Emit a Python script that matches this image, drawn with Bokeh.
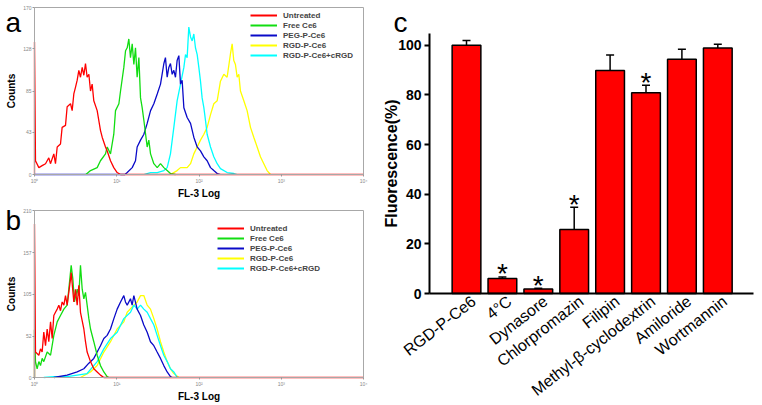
from bokeh.plotting import figure
from bokeh.models import (Range1d, FixedTicker, Label, LabelSet, Legend, LegendItem, Whisker,
                          ColumnDataSource, TeeHead, LinearAxis)
from bokeh.layouts import row, column
from bokeh.embed import file_html
from bokeh.resources import INLINE
from bokeh.core.properties import value

FONT = "Liberation Sans"
NAN = float("nan")

# ---------------- data: panel a (x in decades of FL-3, y in counts) ----------------
a_red_x = [0.000, 0.000, 0.012, 0.053, 0.093, 0.134, 0.174, 0.194, 0.235, 0.255, 0.276, 0.316, 0.336, 0.377, 0.397, 0.438, 0.458, 0.478, 0.499, 0.519, 0.539, 0.559, 0.580, 0.600, 0.620, 0.640, 0.661, 0.681, 0.701, 0.721, 0.762, 0.802, 0.823, 0.863, 0.884, 0.924, 0.964, 1.005, 1.046, 4.000]
a_red_y = [0, 135, 14, 7, 9, 11, 17, 11, 21, 11, 28, 31, 48, 50, 69, 72, 65, 82, 89, 96, 106, 99, 109, 101, 113, 99, 102, 85, 92, 75, 65, 45, 38, 28, 24, 14, 7, 2, 0, 0]
a_green_x = [0.624, 0.681, 0.762, 0.802, 0.863, 0.884, 0.924, 0.964, 0.985, 1.026, 1.046, 1.086, 1.107, 1.127, 1.147, 1.167, 1.188, 1.208, 1.228, 1.248, 1.269, 1.289, 1.309, 1.330, 1.370, 1.390, 1.411, 1.451, 1.492, 1.532, 1.573, 1.613, 1.653, 1.714]
a_green_y = [0, 4, 7, 14, 21, 28, 21, 41, 65, 72, 85, 109, 126, 129, 138, 119, 133, 112, 129, 99, 119, 78, 68, 55, 28, 35, 21, 11, 7, 11, 7, 4, 1, 0]
a_blue_x = [0.000, 1.100, 1.127, 1.188, 1.228, 1.248, 1.289, 1.330, 1.370, 1.411, 1.451, 1.492, 1.532, 1.573, 1.592, 1.613, 1.633, 1.653, 1.674, 1.694, 1.714, 1.734, 1.755, 1.775, 1.795, 1.816, 1.856, 1.897, 1.937, 1.978, 2.018, 2.059, 2.099, 2.140, 2.180, 2.221, 2.261]
a_blue_y = [0, 0, 2, 7, 14, 28, 35, 41, 52, 65, 72, 82, 92, 113, 119, 99, 109, 113, 102, 106, 99, 116, 121, 92, 96, 68, 58, 52, 38, 28, 24, 18, 14, 7, 4, 1, 0]
a_yellow_x = [1.653, 1.734, 1.775, 1.856, 1.897, 1.937, 1.978, 2.018, 2.059, 2.099, 2.140, 2.180, 2.221, 2.261, 2.302, 2.342, 2.383, 2.403, 2.423, 2.443, 2.464, 2.484, 2.504, 2.545, 2.585, 2.626, 2.666, 2.707, 2.747, 2.788, 2.828, 2.869]
a_yellow_y = [0, 4, 7, 7, 11, 21, 28, 35, 41, 48, 61, 72, 75, 95, 102, 99, 123, 133, 116, 112, 99, 102, 85, 75, 65, 48, 38, 28, 18, 11, 4, 0]
a_cyan_x = [1.330, 1.411, 1.492, 1.573, 1.613, 1.653, 1.694, 1.734, 1.775, 1.816, 1.836, 1.856, 1.876, 1.897, 1.917, 1.937, 1.957, 1.978, 1.998, 2.018, 2.038, 2.059, 2.079, 2.099, 2.140, 2.180, 2.221, 2.261, 2.342, 2.423, 2.464]
a_cyan_y = [0, 2, 2, 4, 7, 21, 48, 75, 92, 109, 122, 119, 150, 140, 136, 143, 129, 122, 109, 95, 78, 68, 55, 41, 28, 18, 11, 6, 2, 1, 0]

# ---------------- data: panel b ----------------
b_red_x = [0.000, 0.000, 0.012, 0.053, 0.073, 0.093, 0.113, 0.134, 0.154, 0.174, 0.195, 0.215, 0.235, 0.255, 0.276, 0.296, 0.316, 0.336, 0.357, 0.377, 0.397, 0.417, 0.438, 0.446, 0.478, 0.498, 0.519, 0.539, 0.559, 0.600, 0.620, 0.640, 0.681, 0.721, 0.762, 0.802, 0.843, 4.000]
b_red_y = [0, 193, 32, 28, 36, 32, 57, 40, 61, 45, 70, 49, 78, 82, 86, 91, 84, 95, 91, 103, 91, 107, 124, 132, 95, 111, 91, 116, 82, 61, 45, 32, 20, 11, 7, 3, 0, 0]
b_green_x = [0.000, 0.000, 0.012, 0.032, 0.053, 0.073, 0.093, 0.113, 0.154, 0.195, 0.235, 0.276, 0.316, 0.357, 0.397, 0.417, 0.446, 0.466, 0.486, 0.519, 0.539, 0.559, 0.580, 0.600, 0.620, 0.640, 0.661, 0.681, 0.721, 0.762, 0.802, 0.843, 0.883, 0.904]
b_green_y = [0, 60, 20, 11, 20, 15, 24, 20, 32, 28, 53, 70, 78, 86, 91, 111, 141, 124, 95, 111, 103, 141, 111, 99, 107, 91, 74, 61, 45, 28, 15, 7, 1, 0]
b_blue_x = [0.235, 0.397, 0.519, 0.600, 0.661, 0.721, 0.762, 0.802, 0.843, 0.883, 0.924, 0.965, 1.005, 1.046, 1.086, 1.106, 1.127, 1.167, 1.187, 1.208, 1.248, 1.289, 1.329, 1.370, 1.410, 1.451, 1.491, 1.532, 1.572, 1.613, 1.653, 1.674]
b_blue_y = [0, 3, 7, 11, 18, 24, 32, 40, 49, 53, 61, 74, 86, 95, 103, 95, 91, 99, 91, 103, 86, 78, 66, 57, 45, 40, 32, 24, 15, 7, 1, 0]
b_yellow_x = [0.559, 0.681, 0.762, 0.843, 0.924, 1.005, 1.086, 1.127, 1.208, 1.248, 1.289, 1.329, 1.370, 1.410, 1.451, 1.491, 1.532, 1.572, 1.613, 1.653, 1.694, 1.755]
b_yellow_y = [0, 7, 15, 32, 45, 61, 70, 82, 91, 95, 103, 103, 91, 86, 74, 61, 45, 32, 20, 11, 5, 0]
b_cyan_x = [0.113, 0.235, 0.397, 0.640, 0.762, 0.843, 0.924, 1.005, 1.086, 1.167, 1.208, 1.248, 1.289, 1.329, 1.370, 1.410, 1.451, 1.491, 1.532, 1.572, 1.613, 1.653, 1.694, 1.735]
b_cyan_y = [0, 1, 1, 5, 20, 36, 49, 57, 74, 82, 91, 86, 91, 86, 82, 74, 66, 53, 40, 28, 20, 11, 7, 0]

legend_labels = ["Untreated", "Free Ce6", "PEG-P-Ce6", "RGD-P-Ce6", "RGD-P-Ce6+cRGD"]
line_colors = ["#ff0000", "#11dd11", "#0a0ac8", "#ffff00", "#00ffff"]
decade_ticks = [0, 1, 2, 3, 4]
decade_labels = ["10\u2070", "10\u00b9", "10\u00b2", "10\u00b3", "10\u2074"]
a_yticks = [0, 43, 85, 128, 170]
b_yticks = [0, 52, 105, 157, 210]

# ---------------- data: panel c ----------------
treatments = ["RGD-P-Ce6", "4\u00b0C", "Dynasore", "Chlorpromazin", "Filipin",
              "Methyl-\u03b2-cyclodextrin", "Amiloride", "Wortmannin"]
fluorescence = [100.0, 6.0, 1.8, 25.8, 89.8, 80.9, 94.3, 98.9]
fluor_err = [1.9, 0.6, 0.3, 8.9, 6.3, 3.0, 4.1, 1.5]
significant = [False, True, True, True, False, True, False, False]
c_yticks = [0, 20, 40, 60, 80, 100]
c_ymax = 104.7

GRAY = "#a8a8a8"


def plain_axis(ax):
    ax.ticker = FixedTicker(ticks=[])
    ax.axis_line_color = GRAY
    ax.major_tick_line_color = None
    ax.minor_tick_line_color = None
    ax.major_label_text_font_size = "0px"


def hist_panel(height, box_top, box_bottom, ymax, yticks, series, letter, letter_base,
               legend_xy):
    W = 380
    box_left, box_right = 34, 363
    xpx = (box_right - box_left) / 4.0
    ypx = (box_bottom - box_top) / ymax
    p = figure(width=W, height=height, output_backend="svg", toolbar_location=None,
               x_range=Range1d(-box_left / xpx, 4 + (W - box_right) / xpx),
               y_range=Range1d(-(height - box_bottom) / ypx, ymax + box_top / ypx),
               min_border=0)
    p.grid.visible = False
    p.outline_line_color = None
    xa, ya = p.xaxis[0], p.yaxis[0]
    xa.fixed_location = 0
    xa.bounds = (0, 4)
    ya.fixed_location = 0
    ya.bounds = (0, ymax)
    for ax in (xa, ya):
        ax.axis_line_color = GRAY
        ax.major_tick_line_color = "#999999"
        ax.major_tick_out = 2
        ax.major_tick_in = 0
        ax.minor_tick_line_color = None
        ax.major_label_text_font = FONT
        ax.major_label_text_font_size = "5px"
        ax.major_label_text_color = "#888888"
        ax.major_label_standoff = 1
        ax.axis_label_text_font = FONT
        ax.axis_label_text_font_size = "10px"
        ax.axis_label_text_font_style = "bold"
        ax.axis_label_text_color = "black"
    xa.ticker = FixedTicker(ticks=decade_ticks)
    xa.major_label_overrides = dict(zip(decade_ticks, decade_labels))
    ya.ticker = FixedTicker(ticks=yticks)
    xa.axis_label = "FL-3 Log"
    xa.axis_label_standoff = 1
    ya.axis_label = "Counts"
    ya.axis_label_standoff = 3
    top_ax = LinearAxis(fixed_location=ymax, bounds=(0, 4))
    right_ax = LinearAxis(fixed_location=4, bounds=(0, ymax))
    plain_axis(top_ax)
    plain_axis(right_ax)
    p.add_layout(top_ax, "above")
    p.add_layout(right_ax, "right")

    for i in [3, 4, 2, 1, 0]:
        xs, ys = series[i]
        p.line(xs, ys, line_color=line_colors[i], line_width=1.3)
    items = []
    for i, lab in enumerate(legend_labels):
        proxy = p.line(x=[NAN], y=[NAN], line_color=line_colors[i], line_width=2)
        items.append(LegendItem(label=lab, renderers=[proxy]))
    leg = Legend(items=items, location=legend_xy, orientation="vertical",
                 glyph_width=27, glyph_height=10, label_height=10, spacing=0,
                 padding=0, margin=0, label_standoff=6,
                 label_text_font=FONT, label_text_font_size="8px",
                 label_text_font_style="bold", border_line_color=None,
                 background_fill_alpha=0)
    p.add_layout(leg)
    p.add_layout(Label(x=5, y=height - letter_base, x_units="screen", y_units="screen",
                       text=letter, text_font=FONT, text_font_size="28px",
                       text_color="black", text_baseline="alphabetic"))
    return p


fa = hist_panel(200, 7, 174, 170, a_yticks,
                [(a_red_x, a_red_y), (a_green_x, a_green_y), (a_blue_x, a_blue_y),
                 (a_yellow_x, a_yellow_y), (a_cyan_x, a_cyan_y)],
                "a", 22, (250, 140))
fb = hist_panel(205, 10, 177, 210, b_yticks,
                [(b_red_x, b_red_y), (b_green_x, b_green_y), (b_blue_x, b_blue_y),
                 (b_yellow_x, b_yellow_y), (b_cyan_x, b_cyan_y)],
                "b", 20, (217, 132))

# ---------------- panel c ----------------
CW, CH = 382, 405
c_first_bar_px = 86      # canvas x of first bar centre
c_bar_step_px = 35.9
c_zero_px = 293          # canvas y of value 0
c_unit_px = 2.483

idx = list(range(len(treatments)))
upper = [v + e for v, e in zip(fluorescence, fluor_err)]
lower = [v - e for v, e in zip(fluorescence, fluor_err)]
src = ColumnDataSource(dict(x=idx, top=fluorescence, upper=upper, lower=lower,
                            base=[0] * len(idx), name=treatments))

fc = figure(width=CW, height=CH, output_backend="svg", toolbar_location=None,
            x_range=Range1d(-c_first_bar_px / c_bar_step_px,
                            (CW - c_first_bar_px) / c_bar_step_px),
            y_range=Range1d(-(CH - c_zero_px) / c_unit_px, c_zero_px / c_unit_px),
            min_border=0)
fc.grid.visible = False
fc.outline_line_color = None
fc.vbar(x="x", top="top", width=0.8, source=src, fill_color="#ff0000",
        line_color="black", line_width=1.5)
fc.add_layout(Whisker(source=src, base="x", upper="upper", lower="lower",
                      line_color="black", line_width=1.5,
                      upper_head=TeeHead(size=8, line_width=1.5, line_color="black"),
                      lower_head=TeeHead(size=8, line_width=1.5, line_color="black")))
ast_x = [i for i, s in zip(idx, significant) if s]
ast_y = [u + 4.5 for u, s in zip(upper, significant) if s]
fc.text(x=ast_x, y=ast_y, text=["*"] * len(ast_x), text_font=value(FONT),
        text_font_size="28px", text_align="center", text_baseline="alphabetic",
        y_offset=8, text_color="black")

xc, yc = fc.xaxis[0], fc.yaxis[0]
xc.fixed_location = 0
xc.bounds = (-1.03, 8.0)
xc.ticker = FixedTicker(ticks=[])
xc.major_tick_line_color = None
xc.minor_tick_line_color = None
xc.major_label_text_font_size = "0px"
xc.axis_line_width = 2
xc.axis_line_color = "black"
fc.add_layout(LabelSet(x="x", y="base", text="name", source=src, angle=0.66,
                       text_align="right", text_baseline="top", x_offset=2,
                       y_offset=1, text_font=value(FONT), text_font_size="16px",
                       text_color="black"))

yc.fixed_location = -1.03
yc.bounds = (0, c_ymax)
yc.ticker = FixedTicker(ticks=c_yticks)
yc.minor_tick_line_color = None
yc.axis_line_width = 2
yc.axis_line_color = "black"
yc.major_tick_out = 5
yc.major_tick_in = 0
yc.major_tick_line_width = 2
yc.major_label_text_font = FONT
yc.major_label_text_font_size = "14px"
yc.major_label_text_font_style = "bold"
yc.major_label_text_color = "black"
yc.major_label_standoff = 3
yc.axis_label = "Fluorescence(%)"
yc.axis_label_text_font = FONT
yc.axis_label_text_font_size = "16px"
yc.axis_label_text_font_style = "bold"
yc.axis_label_text_color = "black"
yc.axis_label_standoff = -5
fc.add_layout(Label(x=13, y=CH - 22, x_units="screen", y_units="screen", text="c",
                    text_font=FONT, text_font_size="28px", text_color="black",
                    text_baseline="alphabetic"))

layout = row(column(fa, fb), fc)
open("out.html", "w").write(file_html(layout, INLINE))
